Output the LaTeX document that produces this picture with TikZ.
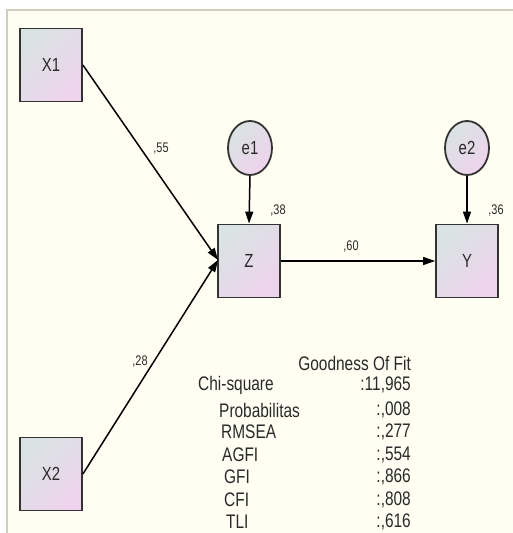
\documentclass[tikz,border=0pt]{standalone}
\usepackage{fontspec}
\usepackage{graphicx}
\setmainfont{Liberation Sans}
\usetikzlibrary{arrows.meta,shapes.geometric}
\definecolor{bgc}{HTML}{FEFEF2}
\definecolor{framec}{HTML}{CFCFC0}
\definecolor{ca}{HTML}{D9E3E3}
\definecolor{cb}{HTML}{EED3EC}
\definecolor{edgec}{HTML}{333333}
\definecolor{txt}{HTML}{2A2A2A}
\newcommand{\vst}[1]{\scalebox{1}[1.27]{#1}}
\tikzset{
  obs/.style={draw=edgec, line width=1.8bp, minimum width=62bp, minimum height=73bp,
    top color=ca, bottom color=cb, shading angle=45, inner sep=0pt,
    font=\fontsize{15}{16}\selectfont, text=txt},
  err/.style={ellipse, draw=edgec, line width=1.8bp, minimum width=44bp, minimum height=54bp,
    top color=ca, bottom color=cb, shading angle=45, inner sep=0pt,
    font=\fontsize{15}{16}\selectfont, text=txt},
  path/.style={draw=black, line width=1.5bp, -{Triangle[length=12bp,width=8bp]}},
  coef/.style={font=\fontsize{11}{12}\selectfont, text=txt, inner sep=0pt},
  fit/.style={font=\fontsize{15.5}{17}\selectfont, text=txt, inner sep=0pt}
}
\begin{document}
\begin{tikzpicture}[x=1bp,y=-1bp]
\useasboundingbox (0,0) rectangle (513,533);
\fill[white] (0,0) rectangle (513,533);
\fill[bgc] (7,10) rectangle (513,533);
\draw[framec, line width=1.2bp] (7,533) -- (7,10) -- (513,10);

\node[obs] (x1) at (51,65) {\vst{X1}};
\node[obs] (x2) at (51,474) {\vst{X2}};
\node[obs] (z) at (249,261) {\vst{Z}};
\node[obs] (y) at (467,261) {\vst{Y}};
\node[err] (e1) at (250,148) {\vst{e1}};
\node[err] (e2) at (467,148) {\vst{e2}};

\coordinate (zin) at (218,260);
\draw[path] (x1.east) -- (zin);
\draw[path] (x2.east) -- (zin);
\draw[path] (e1.south) -- (z.north);
\draw[path] (e2.south) -- (y.north);
\draw[path] (z.east) -- (y.west);

\node[coef] (c55) at (161,149) {\vst{,55}};
\node[coef] (c28) at (140,362) {\vst{,28}};
\node[coef] (c38) at (278,211) {\vst{,38}};
\node[coef] (c36) at (496,211) {\vst{,36}};
\node[coef] (c60) at (351,247) {\vst{,60}};

\node[fit, anchor=east] (gof) at (411,363) {\vst{Goodness Of Fit}};
\node[fit, anchor=west] (l1) at (198,385) {\vst{Chi-square}};
\node[fit, anchor=west] (l2) at (219,410) {\vst{Probabilitas}};
\node[fit, anchor=west] (l3) at (221,432) {\vst{RMSEA}};
\node[fit, anchor=west] (l4) at (222,455) {\vst{AGFI}};
\node[fit, anchor=west] (l5) at (224,477) {\vst{GFI}};
\node[fit, anchor=west] (l6) at (224,500) {\vst{CFI}};
\node[fit, anchor=west] (l7) at (226,522) {\vst{TLI}};
\node[fit, anchor=east] (v1) at (411,385) {\vst{:11,965}};
\node[fit, anchor=east] (v2) at (411,410) {\vst{:,008}};
\node[fit, anchor=east] (v3) at (411,432) {\vst{:,277}};
\node[fit, anchor=east] (v4) at (411,455) {\vst{:,554}};
\node[fit, anchor=east] (v5) at (411,477) {\vst{:,866}};
\node[fit, anchor=east] (v6) at (411,500) {\vst{:,808}};
\node[fit, anchor=east] (v7) at (411,522) {\vst{:,616}};
\end{tikzpicture}
\end{document}
